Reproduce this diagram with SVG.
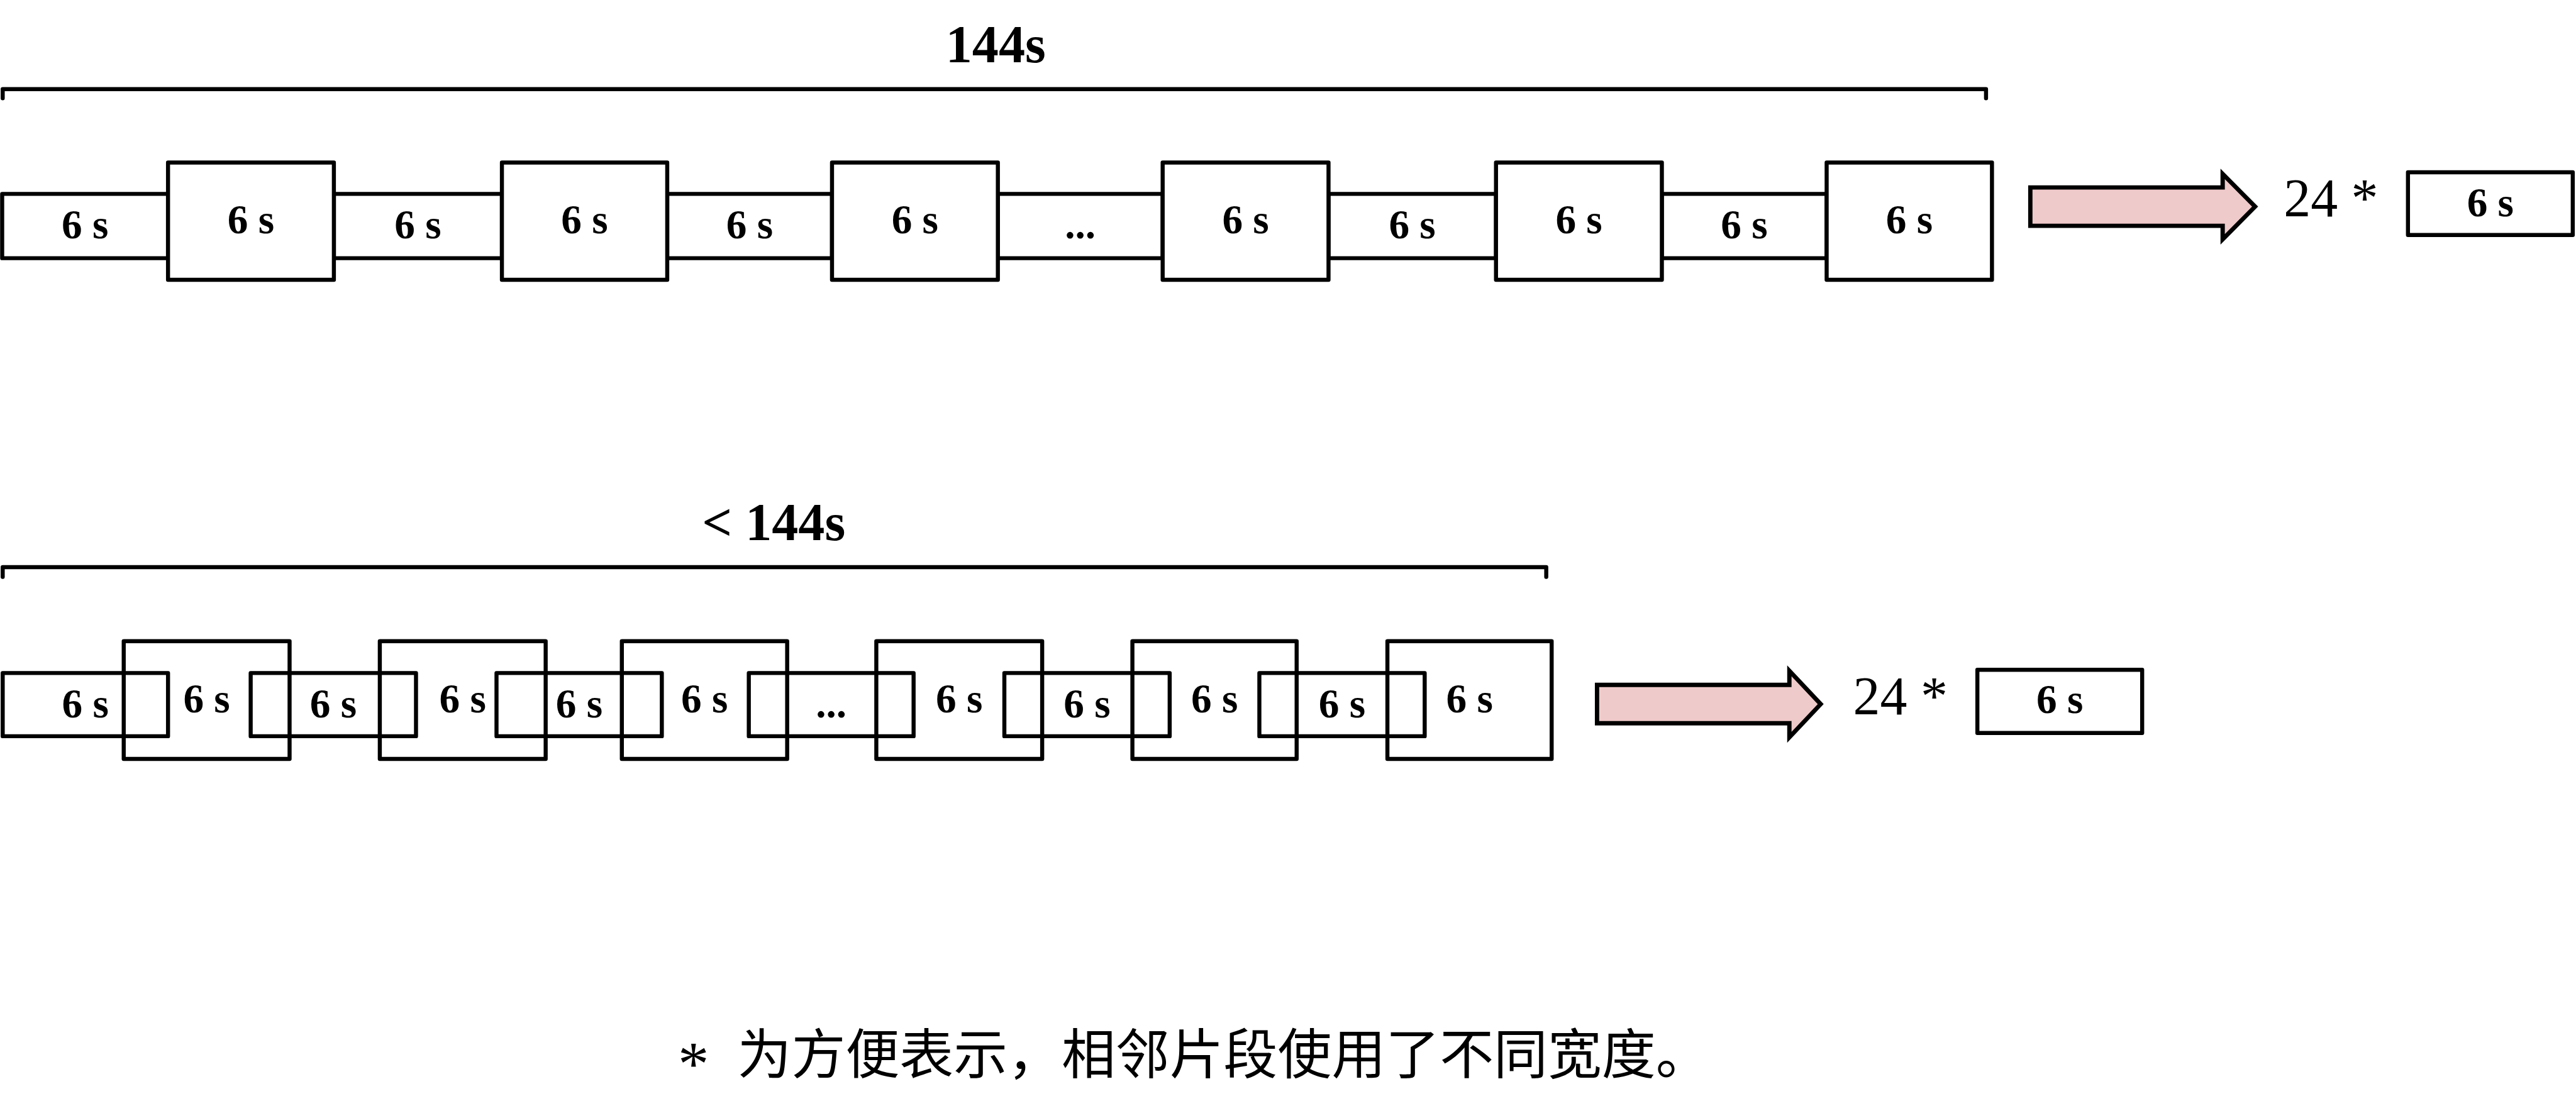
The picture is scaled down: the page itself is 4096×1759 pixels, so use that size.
<svg xmlns="http://www.w3.org/2000/svg" width="4096" height="1759" viewBox="0 0 4096 1759">
<style>
.bx{fill:#fff;stroke:#000;stroke-width:7.5;stroke-linejoin:round}
.ov{fill:none;stroke:#000;stroke-width:7.5;stroke-linejoin:round}
.br{fill:none;stroke:#000;stroke-width:7.5;stroke-linejoin:round;stroke-linecap:round}
.ar{fill:#efcaca;stroke:#000;stroke-width:8;stroke-linejoin:miter;stroke-miterlimit:10}
.lb{font-family:"Liberation Serif","Times New Roman",serif;font-weight:bold;font-size:76px;text-anchor:middle;fill:#000}
.tt{font-family:"Liberation Serif","Times New Roman",serif;font-weight:bold;font-size:98px;text-anchor:middle;fill:#000}
.mul{font-family:"Liberation Serif","Times New Roman",serif;font-size:100px;fill:#000}
.ast{font-family:"Liberation Serif","Times New Roman",serif;font-size:115px;fill:#000}
.cn{font-family:"Noto Sans CJK SC","Noto Sans CJK JP",sans-serif;font-size:100px;fill:#000}
</style>
<rect width="4096" height="1759" fill="#fff"/>
<g transform="scale(0.85906)">
<!-- brackets and titles -->
<g id="bracket-top">
<path class="br" d="M5,182 V165 H3676 V182"/>
<text class="tt" x="1843" y="115">144s</text>
</g>
<g id="bracket-bottom">
<path class="br" d="M5,1068 V1050 H2862 V1068"/>
<text class="tt" x="1432" y="1000">&lt; 144s</text>
</g>

<!-- top row: non-overlapping segments -->
<g id="row1">
<g id="t1"><rect class="bx" x="4" y="359" width="307" height="119"/><text class="lb" x="157.5" y="441">6 s</text></g>
<g id="t3"><rect class="bx" x="618" y="359" width="311" height="119"/><text class="lb" x="773.5" y="441">6 s</text></g>
<g id="t5"><rect class="bx" x="1235" y="359" width="305" height="119"/><text class="lb" x="1387.5" y="441">6 s</text></g>
<g id="t7"><rect class="bx" x="1847" y="359" width="305" height="119"/><text class="lb" x="1999.5" y="441">...</text></g>
<g id="t9"><rect class="bx" x="2459" y="359" width="310" height="119"/><text class="lb" x="2614" y="441">6 s</text></g>
<g id="t11"><rect class="bx" x="3076" y="359" width="305" height="119"/><text class="lb" x="3228.5" y="441">6 s</text></g>
<g id="t2"><rect class="bx" x="311" y="301" width="307" height="217"/><text class="lb" x="464.5" y="432">6 s</text></g>
<g id="t4"><rect class="bx" x="929" y="301" width="306" height="217"/><text class="lb" x="1082" y="432">6 s</text></g>
<g id="t6"><rect class="bx" x="1540" y="301" width="307" height="217"/><text class="lb" x="1693.5" y="432">6 s</text></g>
<g id="t8"><rect class="bx" x="2152" y="301" width="307" height="217"/><text class="lb" x="2305.5" y="432">6 s</text></g>
<g id="t10"><rect class="bx" x="2769" y="301" width="307" height="217"/><text class="lb" x="2922.5" y="432">6 s</text></g>
<g id="t12"><rect class="bx" x="3381" y="301" width="306" height="217"/><text class="lb" x="3534" y="432">6 s</text></g>
</g>

<!-- bottom row: overlapping segments -->
<g id="row2">
<g id="b1"><rect class="ov" x="5" y="1246" width="306" height="117"/><text class="lb" x="158" y="1328">6 s</text></g>
<g id="b2"><rect class="ov" x="229" y="1187" width="307" height="218"/><text class="lb" x="382.5" y="1319">6 s</text></g>
<g id="b3"><rect class="ov" x="464" y="1246" width="306" height="117"/><text class="lb" x="617" y="1328">6 s</text></g>
<g id="b4"><rect class="ov" x="703" y="1187" width="307" height="218"/><text class="lb" x="856.5" y="1319">6 s</text></g>
<g id="b5"><rect class="ov" x="919" y="1246" width="306" height="117"/><text class="lb" x="1072" y="1328">6 s</text></g>
<g id="b6"><rect class="ov" x="1151" y="1187" width="306" height="218"/><text class="lb" x="1304" y="1319">6 s</text></g>
<g id="b7"><rect class="ov" x="1386" y="1246" width="305" height="117"/><text class="lb" x="1538.5" y="1328">...</text></g>
<g id="b8"><rect class="ov" x="1622" y="1187" width="307" height="218"/><text class="lb" x="1775.5" y="1319">6 s</text></g>
<g id="b9"><rect class="ov" x="1859" y="1246" width="306" height="117"/><text class="lb" x="2012" y="1328">6 s</text></g>
<g id="b10"><rect class="ov" x="2096" y="1187" width="304" height="218"/><text class="lb" x="2248" y="1319">6 s</text></g>
<g id="b11"><rect class="ov" x="2331" y="1246" width="306" height="117"/><text class="lb" x="2484" y="1328">6 s</text></g>
<g id="b12"><rect class="ov" x="2568" y="1187" width="304" height="218"/><text class="lb" x="2720" y="1319">6 s</text></g>
</g>

<!-- connectors: block arrows -->
<g id="connectors">
<path class="ar" d="M3758,347 H4114 V322 L4174,382.5 L4114,443 V418 H3758 Z"/>
<path class="ar" d="M2956,1268 H3312 V1242 L3370,1303.5 L3312,1365 V1339 H2956 Z"/>
</g>

<!-- results -->
<g id="result-top">
<text class="mul" x="4227" y="401">24 *</text>
<rect class="bx" x="4457" y="319" width="305" height="116"/>
<text class="lb" x="4609.5" y="400">6 s</text>
</g>
<g id="result-bottom">
<text class="mul" x="3430" y="1322">24 *</text>
<rect class="bx" x="3660" y="1240" width="305" height="117"/>
<text class="lb" x="3812.5" y="1320">6 s</text>
</g>

<!-- footnote -->
<g id="footnote">
<text><tspan class="ast" x="1255" y="2008">*</tspan><tspan class="cn" x="1365" y="1988">为方便表示，相邻片段使用了不同宽度。</tspan></text>
</g>
</g>
</svg>
